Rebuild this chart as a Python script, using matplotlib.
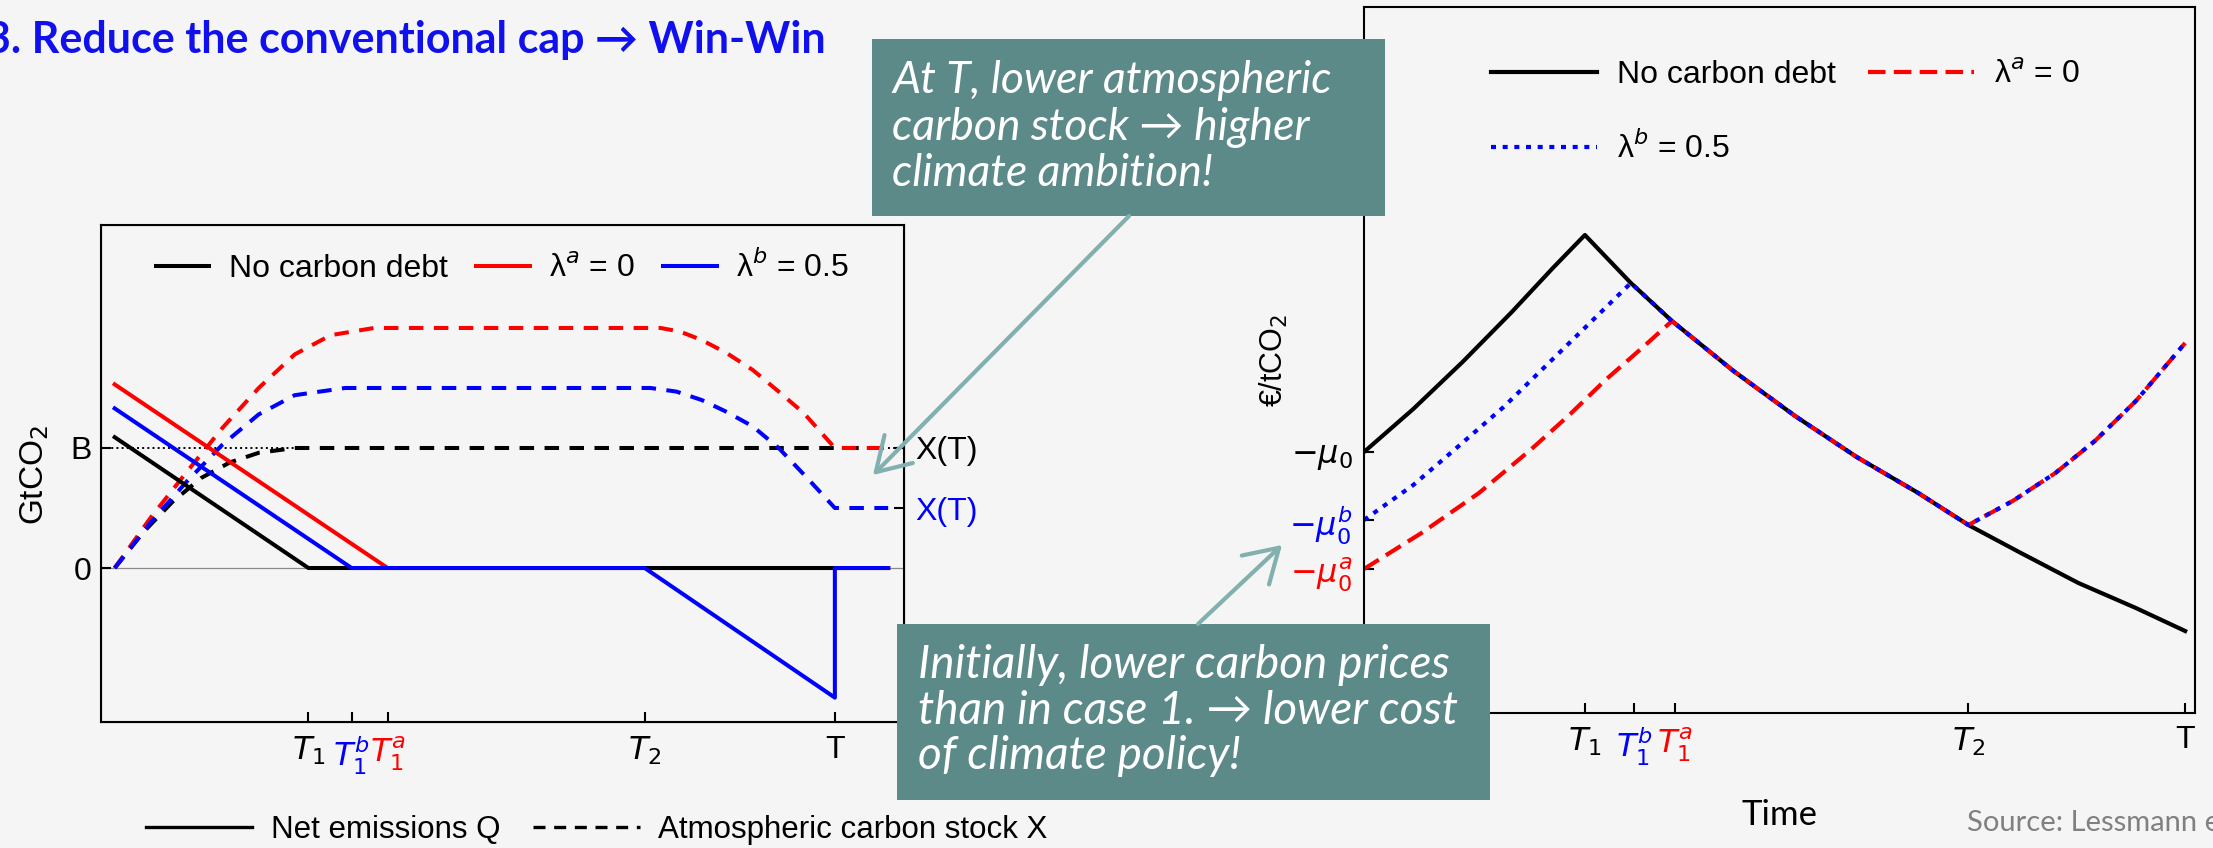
import matplotlib
matplotlib.use('Agg')
import matplotlib.pyplot as plt
import numpy as np
from matplotlib.lines import Line2D
from matplotlib.patches import Rectangle, FancyArrowPatch

W, H = 2213, 848
BG = '#f5f5f5'
TEAL = '#5b8a89'
ARROW_C = '#82b0af'
RED = '#ff0000'
BLUE = '#0000ff'

plt.rcParams['font.family'] = ['Liberation Sans', 'DejaVu Sans']
plt.rcParams['mathtext.fontset'] = 'dejavusans'
CAL = ['Lato', 'DejaVu Sans']

# time axis markers, shared by both panels
t_ticks = [2.69, 3.29, 3.79, 7.36, 10.0]
t_labels = ['$T_1$', '$T_1^b$', '$T_1^a$', '$T_2$', 'T']
t_colors = ['black', BLUE, RED, 'black', 'black']

# left panel: net emissions Q
q_t_none = [0.0, 2.69, 10.74]
q_none = [1.09, 0.0, 0.0]
q_t_a = [0.0, 3.79, 10.74]
q_a = [1.53, 0.0, 0.0]
q_t_b = [0.0, 3.29, 7.36, 10.0, 10.0, 10.74]
q_b = [1.33, 0.0, 0.0, -1.08, 0.0, 0.0]

# left panel: atmospheric carbon stock X
x_t_none = [0.0, 0.4, 0.8, 1.2, 1.6, 2.0, 2.5, 10.74]
x_none = [0.0, 0.30, 0.55, 0.75, 0.88, 0.96, 1.0, 1.0]
x_t_a = [0.0, 0.5, 1.0, 1.5, 2.0, 2.5, 3.0, 3.6, 7.58, 7.85, 8.15, 8.5, 8.86, 9.2, 9.57, 10.0, 10.74]
x_a = [0.0, 0.42, 0.80, 1.17, 1.5, 1.78, 1.94, 2.0, 2.0, 1.97, 1.9, 1.79, 1.65, 1.48, 1.29, 1.0, 1.0]
x_t_b = [0.0, 0.5, 1.0, 1.5, 2.0, 2.5, 3.2, 7.44, 7.8, 8.15, 8.5, 8.86, 9.22, 9.6, 10.0, 10.74]
x_b = [0.0, 0.38, 0.72, 1.03, 1.28, 1.44, 1.5, 1.5, 1.47, 1.4, 1.3, 1.18, 1.0, 0.76, 0.5, 0.5]
B_level = 1.0
xt_levels = [1.0, 0.5]

# right panel: carbon price
p_t_none = [0.0, 0.6, 1.2, 1.8, 2.3, 2.69, 3.25, 3.75, 4.5, 5.25, 6.0, 6.75, 7.36, 8.0, 8.7, 9.4, 10.0]
p_none = [2.61, 3.04, 3.51, 4.01, 4.45, 4.78, 4.30, 3.92, 3.42, 2.97, 2.56, 2.20, 1.88, 1.60, 1.30, 1.05, 0.82]
p_t_b_rise = [0.0, 0.6, 1.14, 1.7, 2.25, 2.8, 3.25]
p_b_rise = [1.93, 2.28, 2.66, 3.06, 3.50, 3.94, 4.30]
p_t_a_rise = [0.0, 0.7, 1.4, 2.04, 2.5, 2.94, 3.4, 3.75]
p_a_rise = [1.44, 1.80, 2.20, 2.64, 2.98, 3.33, 3.66, 3.92]
p_t_up = [7.36, 7.9, 8.42, 8.9, 9.4, 10.0]
p_up = [1.88, 2.12, 2.40, 2.72, 3.12, 3.70]
mu_ticks = [2.61, 1.93, 1.44]
mu_labels = ['$-\\mu_0$', '$-\\mu_0^b$', '$-\\mu_0^a$']
mu_colors = ['black', BLUE, RED]


def fx(px):
    return px / W


def fy(py):
    return 1 - py / H


fig = plt.figure(figsize=(W / 100, H / 100), dpi=100, facecolor=BG)

fig.text(fx(-14), fy(53), '3. Reduce the conventional cap \u2192 Win-Win', color='#1010ee',
         fontsize=31, fontweight='bold', family=CAL, va='baseline')

# ---- left panel ----
ax1 = fig.add_axes([fx(101), fy(722), (904 - 101) / W, (722 - 225) / H])
ax1.set_facecolor(BG)
xl1 = (-0.19, 10.96)
ax1.axhline(0, color='#8a8a8a', lw=0.9, zorder=1)
# dotted cap line B, only where the black stock curve does not cover it
ax1.hlines(B_level, xl1[0], 2.5, color='black', lw=1.4, ls=':', zorder=1)
ax1.hlines(B_level, 10.74, xl1[1], color='black', lw=1.4, ls=':', zorder=1)
dash = (0, (3.6, 2.6))
ax1.plot(x_t_none, x_none, color='black', lw=2.9, ls=dash)
ax1.plot(x_t_a, x_a, color=RED, lw=2.9, ls=dash)
ax1.plot(x_t_b, x_b, color=BLUE, lw=2.9, ls=dash)
la, = ax1.plot(q_t_a, q_a, color=RED, lw=2.9)
ln, = ax1.plot(q_t_none, q_none, color='black', lw=2.9)
lb, = ax1.plot(q_t_b, q_b, color=BLUE, lw=2.9)
ax1.set_xlim(xl1)
ax1.set_ylim(-1.283, 2.858)
ax1.legend([ln, la, lb], ['No carbon debt', '\u03bb$^a$ = 0', '\u03bb$^b$ = 0.5'], ncol=3,
           loc='center', bbox_to_anchor=(0.5, 0.915), frameon=False, fontsize=23,
           handlelength=1.67, handletextpad=0.6, columnspacing=0.9)
ax1.set_xticks(t_ticks)
ax1.set_xticklabels(t_labels, fontsize=23)
for lbl, c in zip(ax1.get_xticklabels(), t_colors):
    lbl.set_color(c)
ax1.set_yticks([0, B_level])
ax1.set_yticklabels(['0', 'B'], fontsize=23)
ax1.tick_params(direction='in', length=7, width=1.5)
ax1.tick_params(axis='x', pad=9)
ax1.tick_params(axis='y', pad=7)
for s in ax1.spines.values():
    s.set_linewidth(1.5)
ax1.set_ylabel('GtCO$_2$', fontsize=24)
ax1.yaxis.set_label_coords(-0.062, 0.497)

axr = ax1.twinx()
axr.set_ylim(ax1.get_ylim())
axr.set_yticks(xt_levels)
axr.set_yticklabels(['X(T)', 'X(T)'], fontsize=23)
for lbl, c in zip(axr.get_yticklabels(), ['black', BLUE]):
    lbl.set_color(c)
axr.tick_params(direction='in', length=7, width=1.5, pad=8)

# ---- right panel ----
ax2 = fig.add_axes([fx(1364), fy(713), (2195 - 1364) / W, (713 - 7) / H])
ax2.set_facecolor(BG)
t_none = np.array(p_t_none)
p_n = np.array(p_none)
mid_a = (t_none > 3.75) & (t_none <= 7.36)
mid_b = (t_none > 3.25) & (t_none <= 7.36)
red_t = p_t_a_rise + list(t_none[mid_a]) + p_t_up[1:]
red_p = p_a_rise + list(p_n[mid_a]) + p_up[1:]
blue_t = p_t_b_rise + list(t_none[mid_b]) + p_t_up[1:]
blue_p = p_b_rise + list(p_n[mid_b]) + p_up[1:]
rn, = ax2.plot(p_t_none, p_none, color='black', lw=3.0)
ra, = ax2.plot(red_t, red_p, color=RED, lw=3.0, ls=(0, (4.2, 2.0)))
rb, = ax2.plot(blue_t, blue_p, color=BLUE, lw=3.0, ls=(0, (1.2, 1.6)))
ax2.set_xlim(0, 10.12)
ax2.set_ylim(0, 7.06)
ax2.legend([rn, rb, ra], ['No carbon debt', '\u03bb$^b$ = 0.5', '\u03bb$^a$ = 0'], ncol=2,
           loc='upper left', bbox_to_anchor=(0.153, 0.925), frameon=False, fontsize=23,
           handlelength=3.3, handletextpad=0.65, columnspacing=1.0, labelspacing=1.3,
           borderpad=0, borderaxespad=0)
ax2.set_xticks(t_ticks)
ax2.set_xticklabels(t_labels, fontsize=23)
for lbl, c in zip(ax2.get_xticklabels(), t_colors):
    lbl.set_color(c)
ax2.set_yticks(mu_ticks)
ax2.set_yticklabels(mu_labels, fontsize=23)
for lbl, c in zip(ax2.get_yticklabels(), mu_colors):
    lbl.set_color(c)
ax2.tick_params(direction='in', length=7, width=1.5)
ax2.tick_params(axis='x', pad=9)
ax2.tick_params(axis='y', pad=8)
for s in ax2.spines.values():
    s.set_linewidth(1.5)
ax2.set_ylabel('\u20ac/tCO$_2$', fontsize=22)
ax2.yaxis.set_label_coords(-0.089, 0.5)
ax2.set_xlabel('Time', fontsize=25, family=CAL)
ax2.xaxis.set_label_coords(0.5, -0.122)

fig.text(fx(1967), fy(823), 'Source: Lessmann et al.', color='#808080', fontsize=21,
         family=CAL, va='center')

# bottom legend
fig.legend([Line2D([], [], color='black', lw=2.4), Line2D([], [], color='black', lw=2.4, ls=dash)],
           ['Net emissions Q', 'Atmospheric carbon stock X'], ncol=2, loc='center left',
           bbox_to_anchor=(fx(146), fy(830)), frameon=False, fontsize=22.5, handlelength=3.4,
           handletextpad=0.6, columnspacing=1.05, borderpad=0, borderaxespad=0)


# call-out boxes
def callout(x0, y0, x1, y1, lines, tx, base, step, size):
    fig.add_artist(Rectangle((fx(x0), fy(y1)), (x1 - x0) / W, (y1 - y0) / H,
                             transform=fig.transFigure, facecolor=TEAL, edgecolor='none', zorder=5))
    for i, s in enumerate(lines):
        fig.text(fx(tx), fy(base + i * step), s, color='white', fontsize=size, style='italic',
                 family=CAL, va='baseline', zorder=6)


callout(872, 39, 1385, 216, ['At T, lower atmospheric', 'carbon stock \u2192 higher',
                             'climate ambition!'], 892, 93, 46.5, 32)
callout(897, 624, 1490, 800, ['Initially, lower carbon prices', 'than in case 1. \u2192 lower cost',
                              'of climate policy!'], 918, 678, 45.5, 33)

for a, b in [((1129, 216), (873, 475)), ((1198, 624), (1282, 545))]:
    fig.add_artist(FancyArrowPatch((fx(a[0]), fy(a[1])), (fx(b[0]), fy(b[1])),
                                   transform=fig.transFigure, arrowstyle='->,head_length=0.9,head_width=0.55',
                                   mutation_scale=26, lw=3, color=ARROW_C, shrinkA=0, shrinkB=0, zorder=7))

fig.savefig('out.png', dpi=100, facecolor=BG)
